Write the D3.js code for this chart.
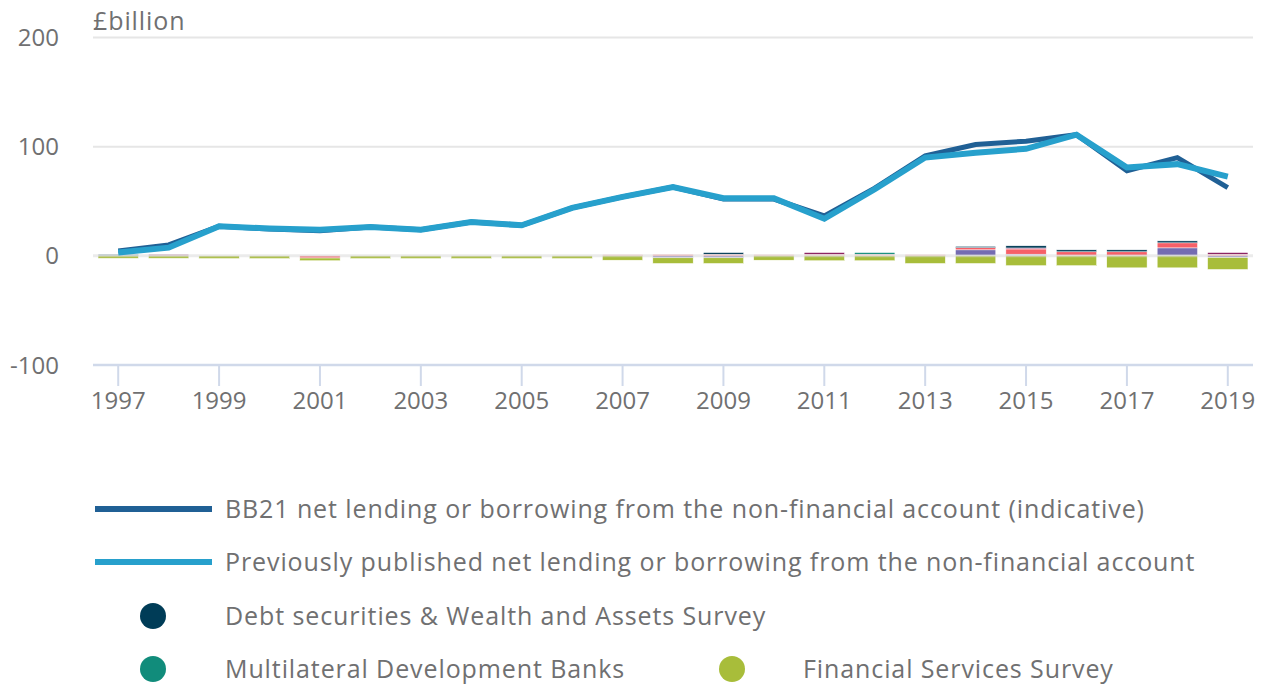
<!DOCTYPE html>
<html>
<head>
<meta charset="utf-8">
<script src="https://cdn.jsdelivr.net/npm/d3@7"></script>
<style>
  html, body { margin: 0; padding: 0; background: #fff; }
  svg { display: block; font-family: "Open Sans", sans-serif; }
</style>
</head>
<body>
<svg id="chart" width="1266" height="688"></svg>
<script>
// ---- Data ----
const years = [1997,1998,1999,2000,2001,2002,2003,2004,2005,2006,2007,2008,2009,2010,2011,2012,2013,2014,2015,2016,2017,2018,2019];
const yTicks = [-100, 0, 100, 200];
const xTickYears = [1997,1999,2001,2003,2005,2007,2009,2011,2013,2015,2017,2019];

const bb21 = [4.5,10,27,24.5,23,26.5,24,31,28,44,54,63,52,52,36.5,62,91.5,102,105,111,78,90,62.5];
const prevPublished = [3,7.5,27,25,24,26.5,24,31,28,44,54,63,52.7,52.7,34,61,90,94.5,98,111,81,84,72.5];

// stacked component series (£billion)
const purpleSeries = [0,0,0,0,0,0,0,0,0,0,0,-1.8,-1.8,0,0,0,0,5.5,1.5,0,0,7.3,-1.5];
const coralSeries  = [0,0,0,0,-2.0,0,0,0,0,0,1.0,1.2,1.5,1.0,1.5,1.5,1.0,2.0,4.8,3.7,3.7,4.6,1.5];
const maroonSeries = [0,1.2,0,0,0,0,0,0,0,0,0,0,0,0,1.5,0,0,0,0.9,0,0,0,1.5];
const tealSeries   = [0,0,0,0,0,0,0,0,0,0,0,0,0,0,0,1.5,0,0,0,0,0,0,0];
const navySeries   = [1.2,0,0,0,0,0,0,0,0,0,0,0,1.5,0,0,0,0,1.2,2.0,1.8,1.8,1.8,0];
const greenSeries  = [-2.3,-2.3,-2.5,-2.5,-2.5,-2.5,-2.5,-2.5,-2.5,-2.5,-4.0,-5.2,-5.2,-4.0,-4.5,-4.5,-7.0,-7.0,-9.0,-9.0,-11.0,-11.0,-11.0];

const seriesKeys = ["Other household adjustments","Pension and insurance adjustments","Other sector adjustments","Multilateral Development Banks","Debt securities & Wealth and Assets Survey","Financial Services Survey"];
const seriesColors = ["#746cb1","#f66068","#871a5b","#118c7b","#003c57","#a8bd3a"];
const seriesValues = [purpleSeries, coralSeries, maroonSeries, tealSeries, navySeries, greenSeries];

const lineNames = ["BB21 net lending or borrowing from the non-financial account (indicative)","Previously published net lending or borrowing from the non-financial account"];
const lineColors = ["#206095","#27a0cc"];

// ---- Build ----
const svg = d3.select("#chart");
const textColor = "#707071";

const x = d3.scaleBand().domain(years).range([93, 1253]).paddingInner(0.2).paddingOuter(0.1);
const xc = d => x(d) + x.bandwidth() / 2;
const y = d3.scaleLinear().domain([-100, 200]).range([365, 37.5]);

// gridlines
svg.append("g").selectAll("line").data(yTicks.filter(v => v > 0)).join("line")
  .attr("x1", 93).attr("x2", 1253)
  .attr("y1", d => y(d)).attr("y2", d => y(d))
  .attr("stroke", "#e6e6e6").attr("stroke-width", 2);

// y tick labels
svg.append("g").selectAll("text").data(yTicks).join("text")
  .attr("x", 59).attr("y", d => y(d)).attr("dy", "0.36em")
  .attr("text-anchor", "end").attr("font-size", 24).attr("fill", textColor)
  .text(d => d);

// units label
svg.append("text").attr("x", 93).attr("y", 30)
  .attr("font-size", 25).attr("letter-spacing", 0.9).attr("fill", textColor).text("£billion");

// stacked bars
const table = years.map((yr, i) => {
  const o = { year: yr };
  seriesKeys.forEach((k, j) => o[k] = seriesValues[j][i]);
  return o;
});
const stacked = d3.stack().keys(seriesKeys).offset(d3.stackOffsetDiverging)(table);

svg.append("g").selectAll("g").data(stacked).join("g")
  .attr("fill", (d, i) => seriesColors[i])
  .selectAll("rect").data(d => d.filter(s => s[1] - s[0] !== 0)).join("rect")
  .attr("x", d => x(d.data.year))
  .attr("width", x.bandwidth())
  .attr("y", d => y(Math.max(d[0], d[1])))
  .attr("height", d => Math.abs(y(d[0]) - y(d[1])))
  .attr("stroke", "#fff").attr("stroke-width", 0.5);

// zero line
svg.append("line").attr("x1", 93).attr("x2", 1253)
  .attr("y1", y(0)).attr("y2", y(0))
  .attr("stroke", "#d9d9d9").attr("stroke-width", 3).attr("opacity", 0.5);

// x axis
const xAxis = d3.axisBottom(x).tickValues(xTickYears).tickSize(21).tickPadding(6);
const gx = svg.append("g").attr("transform", `translate(0,${y(-100)})`).call(xAxis);
gx.select(".domain").attr("stroke", "#d0d9ea").attr("stroke-width", 2.5)
  .attr("d", `M93,0H1253`);
gx.selectAll(".tick line").attr("stroke", "#d0d9ea").attr("stroke-width", 2);
gx.selectAll(".tick text").attr("font-size", 24).attr("fill", textColor)
  .attr("font-family", "'Open Sans', sans-serif");

// lines
const lineGen = d3.line().x((d, i) => xc(years[i])).y(d => y(d)).curve(d3.curveLinear);
svg.append("path").datum(bb21).attr("d", lineGen)
  .attr("fill", "none").attr("stroke", lineColors[0]).attr("stroke-width", 5)
  .attr("stroke-linejoin", "miter");
svg.append("path").datum(prevPublished).attr("d", lineGen)
  .attr("fill", "none").attr("stroke", lineColors[1]).attr("stroke-width", 6)
  .attr("stroke-linejoin", "miter");

// legend
const lg = svg.append("g");
lineNames.forEach((name, i) => {
  const ly = 509 + i * 53;
  lg.append("line").attr("x1", 95).attr("x2", 212).attr("y1", ly).attr("y2", ly)
    .attr("stroke", lineColors[i]).attr("stroke-width", 6);
  lg.append("text").attr("x", 225).attr("y", ly).attr("dy", "0.36em")
    .attr("font-size", 25).attr("letter-spacing", 0.9).attr("fill", textColor).text(name);
});
const dotItems = [
  { name: seriesKeys[4], color: seriesColors[4], cx: 153, tx: 225, cy: 616 },
  { name: seriesKeys[3], color: seriesColors[3], cx: 153, tx: 225, cy: 669 },
  { name: seriesKeys[5], color: seriesColors[5], cx: 732, tx: 803, cy: 669 }
];
dotItems.forEach(d => {
  lg.append("circle").attr("cx", d.cx).attr("cy", d.cy).attr("r", 13).attr("fill", d.color);
  lg.append("text").attr("x", d.tx).attr("y", d.cy).attr("dy", "0.36em")
    .attr("font-size", 25).attr("letter-spacing", 0.9).attr("fill", textColor).text(d.name);
});
</script>
</body>
</html>
